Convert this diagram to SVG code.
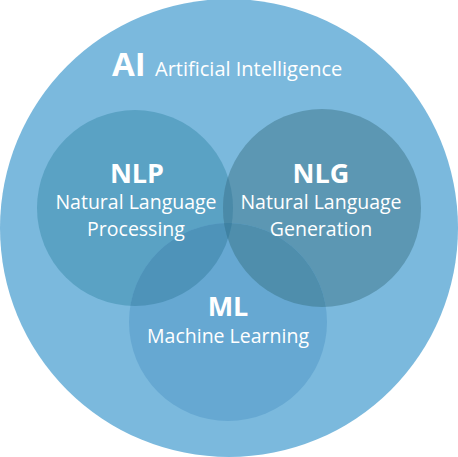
<svg xmlns="http://www.w3.org/2000/svg" width="458" height="457" viewBox="0 0 458 457">
<style>
text{font-family:"Open Sans","Liberation Sans",sans-serif;fill:#ffffff;text-anchor:middle}
.t{font-weight:bold;font-size:27px}
.s{font-size:19.5px}
</style>
<defs>
<clipPath id="cNLP"><circle cx="135" cy="208" r="98"/></clipPath>
<clipPath id="cNLG"><circle cx="322" cy="208" r="99"/></clipPath>
<clipPath id="cML"><circle cx="228" cy="322" r="99"/></clipPath>
</defs>
<rect width="458" height="457" fill="#ffffff"/>
<g id="AI">
<circle cx="229" cy="228" r="229" fill="#7bb9dd"/>
<text x="229" y="76" style="text-anchor:start"><tspan x="112" font-weight="bold" font-size="33">AI</tspan><tspan x="155" font-size="20">Artificial Intelligence</tspan></text>
</g>
<g id="NLP">
<circle cx="135" cy="208" r="98" fill="#5aa2c4"/>
</g>
<g id="NLG">
<circle cx="322" cy="208" r="99" fill="#5c97b3"/>
</g>
<g id="ML">
<circle cx="228" cy="322" r="99" fill="#66a8d2"/>
</g>
<g id="overlaps">
<circle cx="228" cy="322" r="99" fill="#4e93b9" clip-path="url(#cNLP)"/>
<circle cx="228" cy="322" r="99" fill="#4f8eac" clip-path="url(#cNLG)"/>
<circle cx="322" cy="208" r="99" fill="#4a8aa8" clip-path="url(#cNLP)"/>
<g clip-path="url(#cML)"><circle cx="322" cy="208" r="99" fill="#3f82a3" clip-path="url(#cNLP)"/></g>
</g>
<g id="labels">
<text class="t" x="137" y="183">NLP</text>
<text class="s" x="136" y="209">Natural Language</text>
<text class="s" x="136" y="236">Processing</text>
<text class="t" x="321" y="183">NLG</text>
<text class="s" x="321" y="209">Natural Language</text>
<text class="s" x="321" y="236">Generation</text>
<text class="t" x="228" y="316">ML</text>
<text class="s" x="228" y="343">Machine Learning</text>
</g>
<g id="connectors"/>
</svg>
